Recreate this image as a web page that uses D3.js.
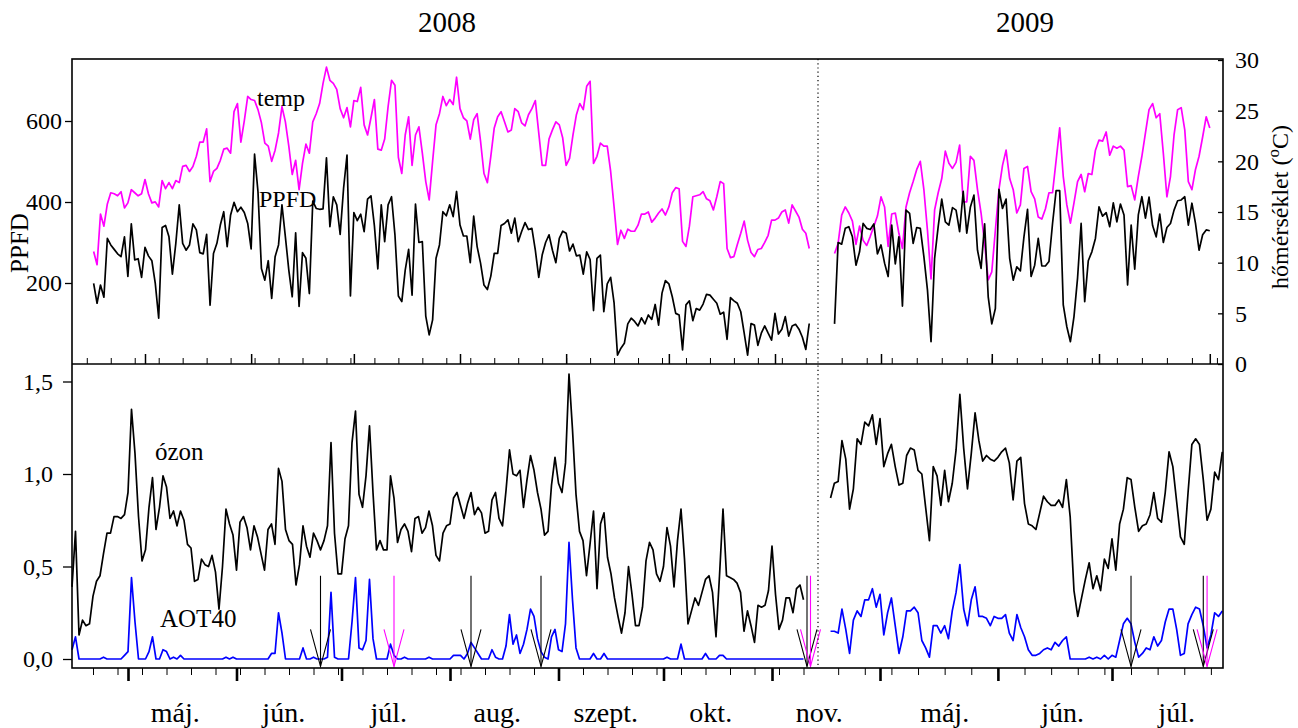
<!DOCTYPE html>
<html>
<head>
<meta charset="utf-8">
<script src="https://cdn.jsdelivr.net/npm/d3@7"></script>
<style>
body { margin: 0; background: #fff; }
svg text { font-family: "Liberation Serif", "Times New Roman", serif; fill: #000; }
</style>
</head>
<body>
<svg id="chart" width="1298" height="728"></svg>
<script>
// ---- data (one value per day) ----
var top08Start = "2008-04-16";
var temp08 = [
  11.1, 9.8, 14.8, 13.6, 15.8, 16.9, 16.8, 16.6, 17.0, 15.4,
  15.9, 17.2, 16.9, 16.6, 16.8, 18.2, 16.8, 15.9, 16.0, 15.5,
  18.1, 17.3, 17.9, 17.3, 18.1, 17.9, 19.5, 19.6, 19.0, 19.5,
  20.5, 21.9, 21.9, 23.2, 18.0, 19.0, 19.3, 20.1, 21.2, 21.3,
  20.8, 24.9, 25.7, 21.9, 24.0, 26.4, 26.1, 26.0, 25.1, 23.8,
  21.8, 21.5, 20.0, 21.1, 22.8, 25.4, 23.9, 21.5, 18.7, 20.1,
  17.2, 19.8, 21.7, 20.8, 23.9, 24.7, 25.7, 27.7, 29.3, 28.0,
  27.7, 27.1, 25.2, 24.3, 25.3, 23.4, 26.0, 25.9, 27.3, 23.6,
  22.6, 24.3, 26.1, 21.2, 21.1, 22.2, 25.4, 28.0, 27.5, 20.4,
  18.8, 22.6, 24.4, 19.6, 22.6, 23.4, 20.8, 18.0, 16.2, 20.0,
  23.6, 24.7, 26.4, 25.5, 26.1, 25.6, 28.3, 25.2, 24.3, 24.0,
  22.2, 24.1, 24.7, 22.0, 18.8, 17.9, 20.5, 23.3, 24.4, 24.9,
  23.9, 22.9, 23.1, 25.2, 24.9, 23.8, 23.5, 24.6, 25.2, 26.0,
  22.8, 19.6, 19.6, 22.2, 23.1, 23.9, 23.6, 22.3, 19.6, 20.3,
  22.6, 24.6, 25.7, 25.1, 27.4, 27.9, 19.8, 20.5, 21.8, 21.5,
  21.5, 19.0, 15.5, 11.8, 13.2, 12.4, 13.3, 13.1, 13.1, 13.7,
  14.8, 14.8, 15.0, 14.0, 14.4, 14.9, 15.3, 14.7, 15.5, 16.9,
  17.4, 17.3, 12.1, 11.6, 13.6, 16.5, 16.6, 16.7, 17.0, 16.3,
  16.1, 15.2, 16.5, 18.0, 17.8, 11.4, 10.5, 10.6, 11.8, 12.9,
  14.1, 12.2, 11.0, 10.6, 11.3, 11.4, 12.0, 12.7, 14.2, 14.2,
  14.4, 15.0, 15.2, 13.9, 15.7, 15.1, 14.5, 13.3, 12.9, 11.4
];
var ppfd08 = [
  199, 150, 195, 165, 310, 294, 283, 272, 265, 314,
  216, 346, 257, 260, 214, 288, 267, 255, 199, 113,
  337, 342, 314, 222, 298, 393, 298, 281, 294, 346,
  331, 275, 272, 320, 145, 273, 298, 343, 376, 290,
  368, 399, 376, 387, 374, 347, 284, 518, 425, 236,
  207, 255, 162, 265, 294, 393, 314, 232, 166, 324,
  142, 275, 261, 174, 402, 384, 382, 383, 509, 339,
  413, 393, 320, 434, 516, 168, 374, 354, 370, 327,
  407, 415, 341, 235, 393, 302, 393, 413, 319, 168,
  154, 232, 283, 170, 395, 300, 302, 118, 72, 109,
  261, 294, 376, 366, 393, 364, 426, 343, 316, 316,
  250, 365, 290, 249, 195, 184, 217, 273, 273, 342,
  347, 356, 323, 360, 302, 327, 349, 332, 335, 281,
  214, 269, 300, 319, 281, 250, 310, 328, 323, 279,
  296, 267, 269, 222, 277, 258, 132, 261, 269, 129,
  198, 214, 151, 22, 39, 51, 99, 113, 105, 94,
  114, 99, 121, 110, 147, 96, 175, 206, 198, 166,
  125, 121, 35, 146, 156, 107, 137, 133, 148, 172,
  170, 160, 150, 123, 128, 61, 164, 156, 150, 129,
  76, 22, 100, 96, 46, 76, 94, 76, 59, 125,
  74, 86, 117, 69, 94, 98, 86, 66, 36, 100
];

var top09Start = "2009-04-18";
var temp09 = [
  10.9, 11.9, 14.7, 15.5, 14.9, 14.1, 11.8, 13.6, 12.2, 11.7,
  12.6, 13.6, 14.6, 16.5, 15.5, 11.6, 14.8, 14.9, 12.9, 11.4,
  15.5, 16.9, 18.0, 19.2, 20.0, 17.2, 13.2, 8.4, 15.2, 16.9,
  18.3, 21.0, 19.8, 19.3, 19.9, 21.6, 16.0, 16.0, 20.5, 20.1,
  17.2, 14.9, 11.9, 8.3, 9.1, 13.2, 17.2, 19.6, 21.1, 18.3,
  17.2, 14.9, 15.7, 19.3, 19.5, 17.0, 16.3, 14.5, 14.3, 15.3,
  16.9, 16.9, 20.1, 23.3, 18.5, 15.7, 13.9, 15.9, 18.0, 18.7,
  17.0, 18.8, 18.7, 21.1, 22.1, 22.0, 22.9, 20.6, 21.5, 21.3,
  21.5, 21.1, 17.5, 17.6, 16.2, 18.5, 20.5, 22.8, 25.1, 25.7,
  24.3, 24.7, 20.8, 16.5, 18.5, 22.6, 25.1, 25.3, 23.1, 18.0,
  17.2, 19.2, 20.5, 22.4, 24.4, 23.3
];
var ppfd09 = [
  99, 300, 296, 335, 339, 314, 244, 277, 347, 335,
  332, 346, 272, 294, 249, 216, 343, 247, 314, 143,
  380, 372, 298, 337, 335, 265, 183, 55, 261, 339,
  407, 351, 343, 386, 380, 327, 426, 323, 387, 417,
  281, 236, 346, 166, 99, 137, 431, 384, 407, 261,
  207, 240, 230, 314, 382, 216, 244, 310, 242, 242,
  253, 347, 428, 428, 146, 92, 55, 117, 212, 347,
  154, 255, 277, 310, 388, 365, 374, 339, 398, 351,
  395, 368, 195, 343, 234, 368, 413, 360, 412, 342,
  314, 370, 300, 337, 347, 380, 403, 405, 413, 343,
  397, 347, 281, 319, 331, 329
];

var bot08Start = "2008-04-15";
var ozone08 = [
  0.39, 0.69, 0.13, 0.21, 0.18, 0.19, 0.34, 0.42, 0.45, 0.57,
  0.68, 0.68, 0.77, 0.77, 0.76, 0.78, 0.90, 1.35, 1.11, 0.77,
  0.53, 0.59, 0.82, 0.98, 0.70, 0.82, 0.99, 0.93, 0.76, 0.80,
  0.72, 0.80, 0.75, 0.62, 0.60, 0.42, 0.43, 0.54, 0.51, 0.50,
  0.56, 0.47, 0.27, 0.50, 0.81, 0.73, 0.67, 0.48, 0.74, 0.77,
  0.71, 0.59, 0.72, 0.66, 0.57, 0.48, 0.70, 0.73, 0.62, 1.03,
  0.96, 0.70, 0.64, 0.62, 0.40, 0.51, 0.72, 0.61, 0.55, 0.68,
  0.64, 0.59, 0.64, 0.72, 1.17, 0.68, 0.46, 0.46, 0.65, 0.72,
  1.17, 1.34, 0.89, 0.82, 0.99, 1.26, 0.90, 0.59, 0.64, 0.59,
  0.59, 0.99, 0.87, 0.63, 0.70, 0.73, 0.69, 0.58, 0.76, 0.77,
  0.68, 0.71, 0.80, 0.72, 0.56, 0.53, 0.68, 0.72, 0.73, 0.87,
  0.90, 0.83, 0.76, 0.84, 0.90, 0.78, 0.82, 0.79, 0.68, 0.69,
  0.86, 0.90, 0.76, 0.72, 0.91, 1.13, 1.00, 0.99, 1.02, 0.82,
  0.97, 1.10, 1.02, 0.90, 0.81, 0.67, 0.69, 0.94, 1.09, 0.95,
  0.90, 1.06, 1.54, 1.24, 0.89, 0.69, 0.64, 0.45, 0.62, 0.80,
  0.38, 0.73, 0.79, 0.55, 0.46, 0.33, 0.23, 0.14, 0.25, 0.50,
  0.35, 0.18, 0.18, 0.28, 0.53, 0.63, 0.59, 0.46, 0.42, 0.50,
  0.71, 0.61, 0.39, 0.64, 0.81, 0.54, 0.19, 0.26, 0.33, 0.29,
  0.36, 0.43, 0.45, 0.36, 0.12, 0.45, 0.81, 0.45, 0.44, 0.43,
  0.41, 0.36, 0.15, 0.26, 0.18, 0.09, 0.29, 0.28, 0.29, 0.37,
  0.61, 0.35, 0.16, 0.21, 0.33, 0.33, 0.25, 0.38, 0.40, 0.32
];
var aot08 = [
  0.05, 0.12, 0, 0, 0, 0, 0, 0, 0, 0.01,
  0, 0, 0, 0, 0, 0.02, 0.04, 0.44, 0.20, 0,
  0, 0, 0.04, 0.12, 0, 0, 0.05, 0.04, 0, 0.01,
  0, 0.02, 0, 0, 0, 0, 0, 0, 0, 0,
  0, 0, 0, 0, 0.01, 0, 0.01, 0, 0, 0,
  0, 0, 0, 0, 0, 0, 0, 0.03, 0.03, 0.25,
  0.14, 0, 0, 0, 0, 0, 0.06, 0, 0, 0.01,
  0, 0, 0, 0.01, 0.36, 0.01, 0, 0, 0, 0,
  0.20, 0.44, 0.06, 0.05, 0.10, 0.43, 0.11, 0, 0, 0,
  0, 0.08, 0.02, 0, 0, 0.01, 0, 0, 0, 0,
  0, 0, 0.01, 0, 0, 0, 0, 0, 0, 0.02,
  0.02, 0.02, 0, 0.03, 0.09, 0.06, 0.03, 0, 0, 0,
  0.05, 0.01, 0, 0, 0.07, 0.24, 0.08, 0.13, 0.03, 0.08,
  0.16, 0.27, 0.23, 0.11, 0.04, 0.01, 0, 0.12, 0.16, 0.05,
  0.04, 0.19, 0.63, 0.32, 0.06, 0, 0, 0, 0, 0.03,
  0, 0, 0.03, 0, 0, 0, 0, 0, 0, 0,
  0, 0, 0, 0, 0, 0, 0, 0, 0, 0,
  0.01, 0, 0, 0, 0.08, 0, 0, 0, 0, 0,
  0, 0.03, 0, 0, 0, 0.02, 0.02, 0, 0, 0,
  0, 0, 0, 0, 0, 0, 0, 0, 0, 0,
  0, 0, 0, 0, 0, 0, 0, 0, 0, 0
];

var bot09Start = "2009-04-18";
var ozone09 = [
  0.87, 0.95, 0.96, 1.18, 1.08, 0.81, 0.92, 1.19, 1.16, 1.28,
  1.26, 1.32, 1.16, 1.30, 1.04, 1.11, 1.16, 1.04, 0.94, 0.95,
  1.10, 1.14, 1.13, 1.02, 1.00, 0.82, 0.64, 1.04, 0.99, 0.83,
  1.02, 0.85, 0.95, 1.13, 1.43, 1.14, 0.92, 1.11, 1.33, 1.18,
  1.07, 1.10, 1.08, 1.07, 1.09, 1.12, 1.14, 1.06, 0.86, 1.07,
  1.09, 0.84, 0.73, 0.72, 0.70, 0.79, 0.88, 0.85, 0.83, 0.83,
  0.86, 0.82, 0.97, 0.77, 0.37, 0.23, 0.33, 0.43, 0.52, 0.38,
  0.45, 0.37, 0.54, 0.49, 0.65, 0.48, 0.73, 0.81, 0.98, 0.97,
  0.82, 0.69, 0.72, 0.73, 0.78, 0.90, 0.76, 0.74, 0.90, 1.12,
  1.04, 0.85, 0.66, 0.62, 0.90, 1.16, 1.19, 1.16, 0.97, 0.75,
  0.81, 1.01, 0.97, 1.12
];
var aot09 = [
  0.15, 0.15, 0.14, 0.27, 0.16, 0.03, 0.21, 0.26, 0.23, 0.32,
  0.32, 0.38, 0.28, 0.35, 0.13, 0.25, 0.33, 0.18, 0.03, 0.12,
  0.26, 0.26, 0.28, 0.25, 0.10, 0.06, 0.01, 0.18, 0.18, 0.14,
  0.18, 0.11, 0.26, 0.36, 0.51, 0.27, 0.18, 0.32, 0.39, 0.23,
  0.23, 0.22, 0.18, 0.23, 0.22, 0.22, 0.24, 0.14, 0.10, 0.24,
  0.17, 0.12, 0.05, 0.02, 0.02, 0.03, 0.05, 0.06, 0.05, 0.09,
  0.07, 0.10, 0.12, 0, 0, 0, 0, 0, 0.01, 0,
  0.01, 0, 0.02, 0, 0.02, 0.01, 0.10, 0.19, 0.22, 0.19,
  0.09, 0.01, 0.03, 0.06, 0.05, 0.12, 0.07, 0.10, 0.20, 0.27,
  0.27, 0.16, 0.02, 0.03, 0.19, 0.24, 0.28, 0.27, 0.18, 0.06,
  0.13, 0.25, 0.23, 0.26
];

// treatment arrows in the ozone panel
var arrowDates = ["2008-06-25", "2008-07-16", "2008-08-07", "2008-08-27", "2008-11-11", "2008-11-12",
                  "2009-07-06", "2009-07-25", "2009-07-26"];
var arrowColors = ["#000", "#ff00ff", "#000", "#000", "#000", "#ff00ff", "#000", "#000", "#ff00ff"];

var months08 = ["máj.", "jún.", "júl.", "aug.", "szept.", "okt.", "nov."];
var months09 = ["máj.", "jún.", "júl."];
var ppfdTicks = [200, 400, 600];
var tempTicks = [0, 5, 10, 15, 20, 25, 30];
var ozoneTicks = [0, 0.5, 1.0, 1.5];

// ---- layout ----
var svg = d3.select("#chart");
var left = 72, mid = 818, right = 1223;
var topY = 59, midY = 364, botY = 668;
var parse = d3.timeParse("%Y-%m-%d");

// the two panels come from separate graphs, so their time scales differ a bit
var xTop08 = d3.scaleTime().domain([new Date(2008, 4, 1), new Date(2008, 10, 1)]).range([145, 775]);
var xTop09 = d3.scaleTime().domain([new Date(2009, 4, 1), new Date(2009, 6, 1)]).range([881, 1099]);
var xBot08 = d3.scaleTime().domain([new Date(2008, 4, 1), new Date(2008, 10, 1)]).range([128, 772]);
var xBot09 = d3.scaleTime().domain([new Date(2009, 4, 1), new Date(2009, 6, 1)]).range([880, 1112]);

var yPPFD = d3.scaleLinear().domain([0, 750]).range([midY, 60.25]);
var yTemp = d3.scaleLinear().domain([0, 30]).range([midY, 60]);
var yOz = d3.scaleLinear().domain([0, 1.5]).range([659, 381.5]);

function dayRange(start, n) {
  var s = parse(start);
  return d3.range(n).map(function(i) { return d3.timeDay.offset(s, i); });
}

function drawSeries(values, start, x, y, color, width) {
  var dates = dayRange(start, values.length);
  var line = d3.line()
    .x(function(d, i) { return x(dates[i]); })
    .y(function(d) { return y(d); });
  svg.append("path")
    .datum(values)
    .attr("fill", "none")
    .attr("stroke", color)
    .attr("stroke-width", width)
    .attr("stroke-linejoin", "round")
    .attr("d", line);
}

// time ticks: weekly (Mondays) minor, month starts major
function timeTicks(scale, x0, x1, yPos, axisFn, interval, size, width) {
  var vals = interval.range(scale.invert(x0), scale.invert(x1));
  svg.append("g")
    .attr("transform", "translate(0," + yPos + ")")
    .call(axisFn(scale).tickValues(vals).tickSize(size).tickSizeOuter(0).tickFormat(""))
    .call(function(g) {
      g.select(".domain").remove();
      g.selectAll("line").attr("stroke", "#000").attr("stroke-width", width);
    });
}

function styleAxis(g) {
  g.select(".domain").remove();
  g.attr("font-family", "Liberation Serif, Times New Roman, serif").attr("font-size", 24);
  g.selectAll("line").attr("stroke-width", 1.3);
}

// ---- top panel ----
drawSeries(temp08, top08Start, xTop08, yTemp, "#ff00ff", 1.7);
drawSeries(ppfd08, top08Start, xTop08, yPPFD, "#000", 1.7);
drawSeries(temp09, top09Start, xTop09, yTemp, "#ff00ff", 1.7);
drawSeries(ppfd09, top09Start, xTop09, yPPFD, "#000", 1.7);

svg.append("g").attr("transform", "translate(" + left + ",0)")
  .call(d3.axisLeft(yPPFD).tickValues(ppfdTicks).tickSize(7).tickPadding(3))
  .call(styleAxis);

svg.append("g").attr("transform", "translate(" + right + ",0)")
  .call(d3.axisRight(yTemp).tickValues(tempTicks).tickSize(-5).tickPadding(12))
  .call(styleAxis);

timeTicks(xTop08, left, mid, midY, d3.axisTop, d3.timeMonday, 6, 1);
timeTicks(xTop08, left, mid, midY, d3.axisTop, d3.timeMonth, 10, 1.5);
timeTicks(xTop09, mid, right, midY, d3.axisTop, d3.timeMonday, 6, 1);
timeTicks(xTop09, mid, right, midY, d3.axisTop, d3.timeMonth, 10, 1.5);

// ---- bottom panel ----
drawSeries(ozone08, bot08Start, xBot08, yOz, "#000", 1.7);
drawSeries(aot08, bot08Start, xBot08, yOz, "#0000ff", 1.7);
drawSeries(ozone09, bot09Start, xBot09, yOz, "#000", 1.7);
drawSeries(aot09, bot09Start, xBot09, yOz, "#0000ff", 1.7);

var comma = d3.formatLocale({ decimal: ",", thousands: ".", grouping: [3], currency: ["", ""] }).format(".1f");
svg.append("g").attr("transform", "translate(" + left + ",0)")
  .call(d3.axisLeft(yOz).tickValues(ozoneTicks).tickFormat(comma).tickSize(9).tickPadding(10))
  .call(styleAxis);

timeTicks(xBot08, left, mid, botY, d3.axisBottom, d3.timeMonday, 7, 1);
timeTicks(xBot08, left, mid, botY, d3.axisBottom, d3.timeMonth, 13, 2.6);
timeTicks(xBot09, mid, right, botY, d3.axisBottom, d3.timeMonday, 7, 1);
timeTicks(xBot09, mid, right, botY, d3.axisBottom, d3.timeMonth, 13, 2.6);

// arrows
arrowDates.forEach(function(ds, i) {
  var d = parse(ds);
  var x = (d.getFullYear() === 2008 ? xBot08 : xBot09)(d);
  var g = svg.append("g").attr("fill", "none").attr("stroke", arrowColors[i]).attr("stroke-width", 1.1);
  g.append("line").attr("x1", x).attr("x2", x).attr("y1", yOz(0.45)).attr("y2", yOz(-0.04));
  g.append("polyline").attr("points", [
    [x - 10, yOz(0.16)], [x, yOz(-0.04)], [x + 10, yOz(0.16)]
  ].join(" "));
});

// ---- frames ----
svg.append("rect").attr("x", left).attr("y", topY).attr("width", right - left).attr("height", botY - topY)
  .attr("fill", "none").attr("stroke", "#000").attr("stroke-width", 1.6);
svg.append("line").attr("x1", left).attr("x2", right).attr("y1", midY).attr("y2", midY)
  .attr("stroke", "#000").attr("stroke-width", 1.6);
svg.append("line").attr("x1", mid).attr("x2", mid).attr("y1", topY).attr("y2", botY)
  .attr("stroke", "#000").attr("stroke-width", 1.2).attr("stroke-dasharray", "1.2,3");

// ---- text ----
svg.append("text").attr("x", 447).attr("y", 32).attr("text-anchor", "middle").attr("font-size", 29).text("2008");
svg.append("text").attr("x", 1025).attr("y", 32).attr("text-anchor", "middle").attr("font-size", 29).text("2009");

svg.append("text").attr("transform", "translate(28,243) rotate(-90)")
  .attr("text-anchor", "middle").attr("font-size", 25).text("PPFD");

var rt = svg.append("text").attr("transform", "translate(1288,207) rotate(-90)")
  .attr("text-anchor", "middle").attr("font-size", 24);
rt.append("tspan").text("hőmérséklet (");
rt.append("tspan").attr("font-size", 17).attr("dy", -9).text("o");
rt.append("tspan").attr("dy", 9).text("C)");

svg.append("text").attr("x", 257).attr("y", 106).attr("font-size", 24).text("temp");
svg.append("text").attr("x", 259).attr("y", 207).attr("font-size", 24).text("PPFD");
svg.append("text").attr("x", 155).attr("y", 460).attr("font-size", 25).text("ózon");
svg.append("text").attr("x", 160).attr("y", 627).attr("font-size", 25).text("AOT40");

// month names, placed mid-month under each period
d3.timeMonth.range(new Date(2008, 4, 1), new Date(2008, 11, 1)).forEach(function(m, i) {
  svg.append("text").attr("x", xBot08(new Date(m.getTime() + 13.5 * 864e5))).attr("y", 722)
    .attr("text-anchor", "middle").attr("font-size", 28).text(months08[i]);
});
d3.timeMonth.range(new Date(2009, 4, 1), new Date(2009, 7, 1)).forEach(function(m, i) {
  svg.append("text").attr("x", xBot09(new Date(m.getTime() + 17 * 864e5))).attr("y", 722)
    .attr("text-anchor", "middle").attr("font-size", 28).text(months09[i]);
});
</script>
</body>
</html>
